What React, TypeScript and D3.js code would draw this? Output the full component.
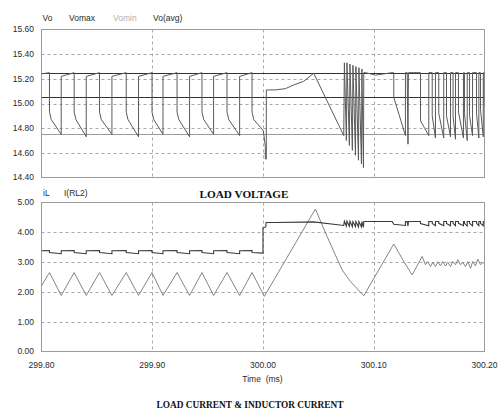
import React from "react";
import * as d3 from "d3";

// Time axis (ms)
const timeTicks = [299.8, 299.9, 300.0, 300.1, 300.2];
const voltTicks = [14.4, 14.6, 14.8, 15.0, 15.2, 15.4, 15.6];
const currTicks = [0, 1, 2, 3, 4, 5];

// Reference levels of the load voltage
const voMax = 15.25;
const voMin = 14.75;
const voAvg = 15.05;

// Load voltage Vo: [time ms, volts]
const vo: [number, number][] = [
  [299.8, 15.24],
  [299.8072, 15.25], [299.8072, 14.93], [299.8088, 14.87], [299.8178, 14.75], [299.8178, 15.22],
  [299.8295, 15.25], [299.8295, 14.93], [299.8311, 14.87], [299.8404, 14.73], [299.8404, 15.22],
  [299.8524, 15.25], [299.8524, 14.93], [299.854, 14.87], [299.8636, 14.75], [299.8636, 15.22],
  [299.8765, 15.25], [299.8765, 14.93], [299.8781, 14.87], [299.8876, 14.73], [299.8876, 15.22],
  [299.8998, 15.25], [299.8998, 14.93], [299.9014, 14.87], [299.9097, 14.75], [299.9097, 15.22],
  [299.9224, 15.25], [299.9224, 14.93], [299.924, 14.87], [299.9337, 14.73], [299.9337, 15.22],
  [299.9449, 15.25], [299.9449, 14.93], [299.9465, 14.87], [299.9554, 14.75], [299.9554, 15.22],
  [299.9675, 15.25], [299.9675, 14.93], [299.9691, 14.87], [299.9789, 14.74], [299.9789, 15.22],
  [299.9901, 15.25], [299.9901, 14.93], [299.9917, 14.87],
  [300.0003, 14.78], [300.0021, 14.65], [300.0021, 14.55], [300.003, 14.55], [300.003, 15.11],
  [300.0111, 15.11], [300.0202, 15.12], [300.0277, 15.15], [300.0367, 15.18], [300.0458, 15.245],
  [300.0729, 14.74],
  [300.0735, 15.33], [300.0753, 14.7], [300.0758, 15.33], [300.078, 14.66], [300.0785, 15.32],
  [300.0807, 14.62], [300.0812, 15.31], [300.0835, 14.58], [300.0839, 15.3], [300.0862, 14.54],
  [300.0866, 15.29], [300.0889, 14.51], [300.0893, 15.28], [300.0907, 14.48], [300.091, 15.25],
  [300.0925, 15.25], [300.1015, 15.23], [300.1166, 15.25],
  [300.1181, 15.25], [300.1181, 15.05], [300.1286, 14.74], [300.1286, 15.25],
  [300.1302, 15.25], [300.1309, 14.67], [300.1313, 15.25],
  [300.1422, 15.25], [300.1422, 14.86], [300.1497, 14.74], [300.1497, 15.25],
  [300.1528, 15.25], [300.1528, 14.9], [300.1557, 14.72], [300.1557, 15.25],
  [300.1587, 15.25], [300.1587, 14.92], [300.1632, 14.72], [300.1632, 15.25],
  [300.1657, 15.25], [300.1657, 14.9], [300.1693, 14.73], [300.1693, 15.25],
  [300.1716, 15.25], [300.1716, 14.9], [300.1738, 14.71], [300.1738, 15.25],
  [300.1765, 15.25], [300.1765, 14.93], [300.181, 14.72], [300.181, 15.25],
  [300.1819, 15.25], [300.1819, 14.92], [300.1844, 14.7], [300.1844, 15.25],
  [300.1865, 15.25], [300.1865, 14.9], [300.1892, 14.74], [300.1892, 15.25],
  [300.1928, 15.25], [300.1928, 14.92], [300.1949, 14.72], [300.1949, 15.25],
  [300.1964, 15.25], [300.1964, 14.95], [300.1989, 14.73], [300.1989, 15.25],
  [300.1996, 15.25], [300.1996, 15.0], [300.2, 14.98],
];

// Inductor current iL: [time ms, amps]
const iL: [number, number][] = [
  [299.8, 2.2], [299.8072, 2.65], [299.8178, 1.88], [299.8295, 2.65], [299.8404, 1.88],
  [299.8524, 2.65], [299.8636, 1.88], [299.8765, 2.65], [299.8876, 1.88], [299.8998, 2.65],
  [299.9097, 1.88], [299.9224, 2.65], [299.9337, 1.88], [299.9449, 2.65], [299.9554, 1.88],
  [299.9675, 2.65], [299.9789, 1.88], [299.9901, 2.65], [300.0012, 1.85], [300.0473, 4.78],
  [300.0579, 3.86], [300.0714, 2.74], [300.0789, 2.35], [300.091, 1.87], [300.1181, 3.61],
  [300.1271, 3.02], [300.1347, 2.57], [300.1437, 3.19], [300.1467, 2.91], [300.1488, 3.02],
  [300.1512, 2.85], [300.1533, 2.99], [300.1557, 2.85], [300.1578, 3.01], [300.1603, 2.87],
  [300.1623, 3.02], [300.1648, 2.87], [300.1669, 2.99], [300.1693, 2.85], [300.1714, 3.02],
  [300.1738, 2.91], [300.1759, 3.08], [300.1783, 2.91], [300.1804, 2.99], [300.1829, 2.85],
  [300.1849, 3.02], [300.1874, 2.79], [300.1894, 3.02], [300.1919, 2.87], [300.194, 3.1],
  [300.1964, 2.91], [300.1985, 2.99], [300.2, 2.95],
];

// Load current I(RL2): [time ms, amps]
const iLoad: [number, number][] = [
  [299.8, 3.38],
  [299.8072, 3.39], [299.8072, 3.32], [299.8178, 3.28], [299.8178, 3.38],
  [299.8295, 3.39], [299.8295, 3.32], [299.8404, 3.28], [299.8404, 3.38],
  [299.8524, 3.39], [299.8524, 3.32], [299.8636, 3.28], [299.8636, 3.38],
  [299.8765, 3.39], [299.8765, 3.32], [299.8876, 3.28], [299.8876, 3.38],
  [299.8998, 3.39], [299.8998, 3.32], [299.9097, 3.28], [299.9097, 3.38],
  [299.9224, 3.39], [299.9224, 3.32], [299.9337, 3.28], [299.9337, 3.38],
  [299.9449, 3.39], [299.9449, 3.32], [299.9554, 3.28], [299.9554, 3.38],
  [299.9675, 3.39], [299.9675, 3.32], [299.9789, 3.28], [299.9789, 3.38],
  [299.9901, 3.39], [299.9901, 3.32], [300.0, 3.3],
  [300.0, 4.15], [300.0025, 4.18], [300.0028, 4.33],
  [300.0111, 4.33], [300.0367, 4.34], [300.0458, 4.35], [300.0729, 4.23],
  [300.0735, 4.37], [300.0753, 4.21], [300.0758, 4.37], [300.078, 4.2], [300.0785, 4.37],
  [300.0807, 4.19], [300.0812, 4.36], [300.0835, 4.19], [300.0839, 4.36], [300.0862, 4.18],
  [300.0866, 4.36], [300.0889, 4.18], [300.0893, 4.36], [300.0907, 4.17], [300.091, 4.36],
  [300.1166, 4.36], [300.1181, 4.27], [300.1286, 4.23], [300.1286, 4.36],
  [300.1302, 4.36], [300.1309, 4.21], [300.1313, 4.36],
  [300.1422, 4.36], [300.1422, 4.29], [300.1497, 4.22], [300.1497, 4.36],
  [300.1528, 4.36], [300.1528, 4.3], [300.1557, 4.22], [300.1557, 4.36],
  [300.1587, 4.36], [300.1587, 4.3], [300.1632, 4.22], [300.1632, 4.36],
  [300.1657, 4.36], [300.1657, 4.3], [300.1693, 4.22], [300.1693, 4.36],
  [300.1716, 4.36], [300.1716, 4.3], [300.1738, 4.22], [300.1738, 4.36],
  [300.1765, 4.36], [300.1765, 4.3], [300.181, 4.22], [300.181, 4.36],
  [300.1819, 4.36], [300.1819, 4.3], [300.1844, 4.21], [300.1844, 4.36],
  [300.1865, 4.36], [300.1865, 4.3], [300.1892, 4.22], [300.1892, 4.36],
  [300.1928, 4.36], [300.1928, 4.3], [300.1949, 4.22], [300.1949, 4.36],
  [300.1964, 4.36], [300.1964, 4.3], [300.1989, 4.22], [300.1989, 4.36],
  [300.2, 4.34],
];

const W = 499;
const H = 411;
const left = 41.5;
const right = 484.5;
const top1 = 29.5;
const bot1 = 177.5;
const top2 = 202.5;
const bot2 = 351.5;

const sans = "'Liberation Sans', Arial, sans-serif";
const serif = "'Liberation Serif', 'Times New Roman', serif";
const gridColor = "#a8a8a8";
const frameColor = "#9c9c9c";
const textColor = "#2a2a2a";

export default function App() {
  const x = d3.scaleLinear().domain([299.8, 300.2]).range([left, right]);
  const yV = d3.scaleLinear().domain([14.4, 15.6]).range([bot1, top1]);
  const yI = d3.scaleLinear().domain([0, 5]).range([bot2, top2]);

  const lineV = d3
    .line<[number, number]>()
    .x((d) => x(d[0]))
    .y((d) => yV(d[1]));
  const lineI = d3
    .line<[number, number]>()
    .x((d) => x(d[0]))
    .y((d) => yI(d[1]));

  const innerTimes = timeTicks.slice(1, -1);
  const crisp = (v: number) => Math.round(v) + 0.5;

  const panelGrid = (y0: number, y1: number, ys: number[]) => (
    <g>
      {ys.map((yy, i) => (
        <line
          key={"h" + i}
          x1={left}
          x2={right}
          y1={crisp(yy)}
          y2={crisp(yy)}
          stroke={gridColor}
          strokeDasharray="3,3"
          strokeWidth={1}
        />
      ))}
      {innerTimes.map((t, i) => (
        <line
          key={"v" + i}
          x1={crisp(x(t))}
          x2={crisp(x(t))}
          y1={y0}
          y2={y1}
          stroke={gridColor}
          strokeDasharray="3,3"
          strokeWidth={1}
        />
      ))}
    </g>
  );

  return (
    <div style={{ position: "absolute", left: 0, top: 0, background: "#fff" }}>
      <svg width={W} height={H} viewBox={`0 0 ${W} ${H}`} style={{ display: "block" }}>
        <rect x={0} y={0} width={W} height={H} fill="#fff" />
        <defs>
          <clipPath id="clipTop">
            <rect x={left} y={top1} width={right - left} height={bot1 - top1} />
          </clipPath>
          <clipPath id="clipBot">
            <rect x={left} y={top2} width={right - left} height={bot2 - top2} />
          </clipPath>
        </defs>

        {/* Load voltage panel */}
        {panelGrid(
          top1,
          bot1,
          voltTicks.slice(1, -1).map((v) => yV(v))
        )}
        <rect
          x={left}
          y={top1}
          width={right - left}
          height={bot1 - top1}
          fill="none"
          stroke={frameColor}
        />
        <g clipPath="url(#clipTop)">
          <line x1={left} x2={right} y1={crisp(yV(voMin))} y2={crisp(yV(voMin))} stroke="#9a9a9a" strokeWidth={1} />
          <line x1={left} x2={right} y1={crisp(yV(voAvg))} y2={crisp(yV(voAvg))} stroke="#333" strokeWidth={1} />
          <line x1={left} x2={right} y1={crisp(yV(voMax))} y2={crisp(yV(voMax))} stroke="#333" strokeWidth={1} />
          <path d={lineV(vo) || ""} fill="none" stroke="#5a5a5a" strokeWidth={1} />
        </g>
        {voltTicks.map((v) => (
          <text
            key={"vt" + v}
            x={34}
            y={yV(v)}
            dy="0.35em"
            textAnchor="end"
            fontFamily={sans}
            fontSize={8.5}
            fill={textColor}
          >
            {v.toFixed(2)}
          </text>
        ))}
        <g fontFamily={sans} fontSize={8.5}>
          <text x={42.5} y={21} fill={textColor}>Vo</text>
          <text x={69} y={21} fill={textColor}>Vomax</text>
          <text x={113} y={21} fill="#b0b0b0">Vomin</text>
          <text x={153} y={21} fill={textColor}>Vo(avg)</text>
        </g>

        <text
          x={199.5}
          y={197.5}
          fontFamily={serif}
          fontWeight="bold"
          fontSize={11}
          fill="#111"
          textLength={89}
          lengthAdjust="spacingAndGlyphs"
        >
          LOAD VOLTAGE
        </text>

        {/* Current panel */}
        {panelGrid(
          top2,
          bot2,
          currTicks.slice(1, -1).map((v) => yI(v))
        )}
        <rect
          x={left}
          y={top2}
          width={right - left}
          height={bot2 - top2}
          fill="none"
          stroke={frameColor}
        />
        <g clipPath="url(#clipBot)">
          <path d={lineI(iL) || ""} fill="none" stroke="#858585" strokeWidth={1} />
          <path d={lineI(iLoad) || ""} fill="none" stroke="#3a3a3a" strokeWidth={1.1} />
        </g>
        {currTicks.map((v) => (
          <text
            key={"it" + v}
            x={34}
            y={yI(v)}
            dy="0.35em"
            textAnchor="end"
            fontFamily={sans}
            fontSize={8.5}
            fill={textColor}
          >
            {v.toFixed(2)}
          </text>
        ))}
        <g fontFamily={sans} fontSize={8.5}>
          <text x={43} y={195.5} fill={textColor}>iL</text>
          <text x={64} y={195.5} fill={textColor}>I(RL2)</text>
        </g>

        {timeTicks.map((t) => (
          <text
            key={"tt" + t}
            x={x(t)}
            y={368}
            textAnchor="middle"
            fontFamily={sans}
            fontSize={8.5}
            fill={textColor}
          >
            {t.toFixed(2)}
          </text>
        ))}
        <text
          x={262.5}
          y={382}
          textAnchor="middle"
          fontFamily={sans}
          fontSize={8.5}
          fill={textColor}
          style={{ whiteSpace: "pre" }}
        >
          {"Time  (ms)"}
        </text>
        <text
          x={156.5}
          y={408}
          fontFamily={serif}
          fontWeight="bold"
          fontSize={11}
          fill="#111"
          textLength={187}
          lengthAdjust="spacingAndGlyphs"
        >
          LOAD CURRENT &amp; INDUCTOR CURRENT
        </text>
      </svg>
    </div>
  );
}
